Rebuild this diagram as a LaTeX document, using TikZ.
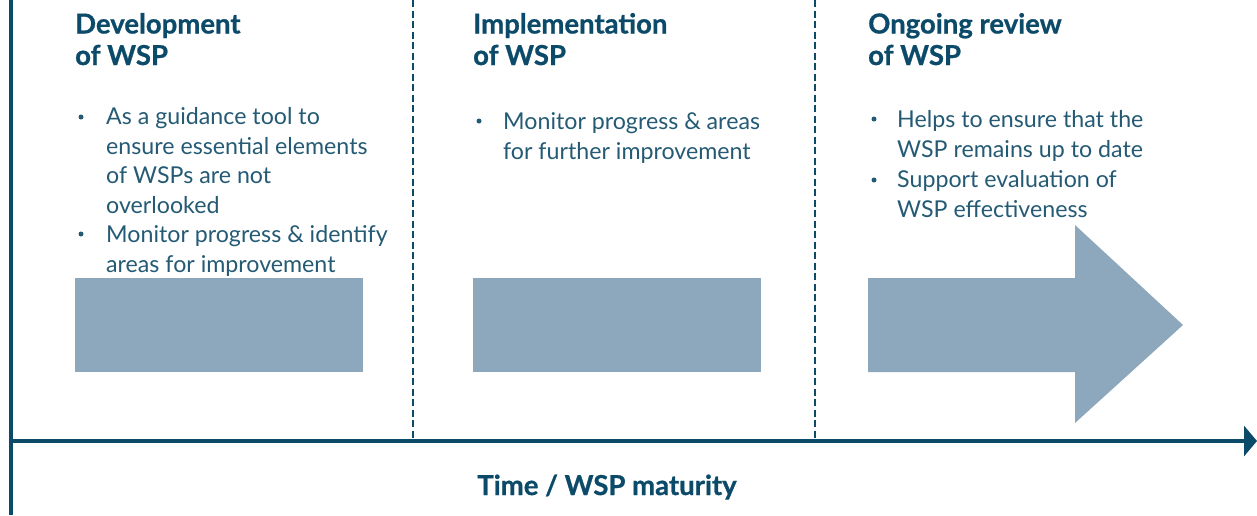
\documentclass[tikz,border=0pt]{standalone}
\usepackage{fontspec}
\setmainfont{Lato}[BoldFeatures={FakeBold=0.8}]
\usetikzlibrary{positioning, arrows.meta}
\definecolor{wspdark}{HTML}{0B4A68}
\definecolor{wsptext}{HTML}{245A74}
\definecolor{wspbox}{HTML}{8DA7BC}
\tikzset{
  heading/.style={
    anchor=base west,
    inner sep=0pt,
    align=left,
    text=wspdark,
    font=\fontsize{27.5}{31.5}\selectfont\bfseries
  },
  bullettext/.style={
    anchor=base west,
    inner sep=0pt,
    align=left,
    text=wsptext,
    font=\fontsize{23.2}{29.4}\selectfont
  },
  dot/.style={
    circle,
    fill=wsptext,
    inner sep=0pt,
    minimum size=5pt
  },
  stagebox/.style={
    fill=wspbox,
    draw=none
  },
  axis/.style={
    draw=wspdark,
    line width=4.5pt
  },
  divider/.style={
    draw=wspdark,
    line width=2.8pt,
    dash pattern=on 7pt off 3.5pt
  }
}
\begin{document}
\begin{tikzpicture}[x=1pt, y=-1pt]
    \useasboundingbox (0,0) rectangle (1257,515);

    % axes
    \coordinate (origin) at (11,441);
    \coordinate (top) at (11,0);
    \coordinate (bottom) at (11,515);
    \coordinate (tip) at (1257,441);
    \draw[axis] (top) -- (bottom);
    \draw[axis, -{Triangle[width=30pt, length=13pt]}] (origin) -- (tip);

    % dividers
    \coordinate (d1top) at (413,0);
    \coordinate (d1bot) at (413,441);
    \coordinate (d2top) at (815,0);
    \coordinate (d2bot) at (815,441);
    \draw[divider] (d1top) -- (d1bot);
    \draw[divider] (d2top) -- (d2bot);

    % headings (placed at the baseline of their last line)
    \node[heading] (devhead) at (75,65) {Development\\of WSP};
    \node[heading] (imphead) at (473,65) {Implementation\\of WSP};
    \node[heading] (revhead) at (868,65) {Ongoing review\\of WSP};

    % bullets (text placed at the baseline of its last line)
    \node[dot] (devdot1) at (81,117) {};
    \node[bullettext] (devtext1) at (106,213) {As a guidance tool to\\ensure essential elements\\of WSPs are not\\overlooked};
    \node[dot] (devdot2) at (81,234) {};
    \node[bullettext] (devtext2) at (106,272) {Monitor progress \& identify\\areas for improvement};

    \node[dot] (impdot1) at (479,121) {};
    \node[bullettext] (imptext1) at (503,159) {Monitor progress \& areas\\for further improvement};

    \node[dot] (revdot1) at (874,119) {};
    \node[bullettext] (revtext1) at (897,157) {Helps to ensure that the\\WSP remains up to date};
    \node[dot] (revdot2) at (874,180) {};
    \node[bullettext] (revtext2) at (897,217) {Support evaluation of\\WSP effectiveness};

    % stages
    \fill[stagebox] (75,278) rectangle (363,372);
    \fill[stagebox] (473,278) rectangle (761,372);
    \fill[stagebox] (868,278) -- (1075,278) -- (1075,225) -- (1183,325)
        -- (1075,423) -- (1075,372) -- (868,372) -- cycle;

    % axis label
    \node[heading, anchor=base] (timelabel) at (607,495) {Time / WSP maturity};
\end{tikzpicture}
\end{document}
